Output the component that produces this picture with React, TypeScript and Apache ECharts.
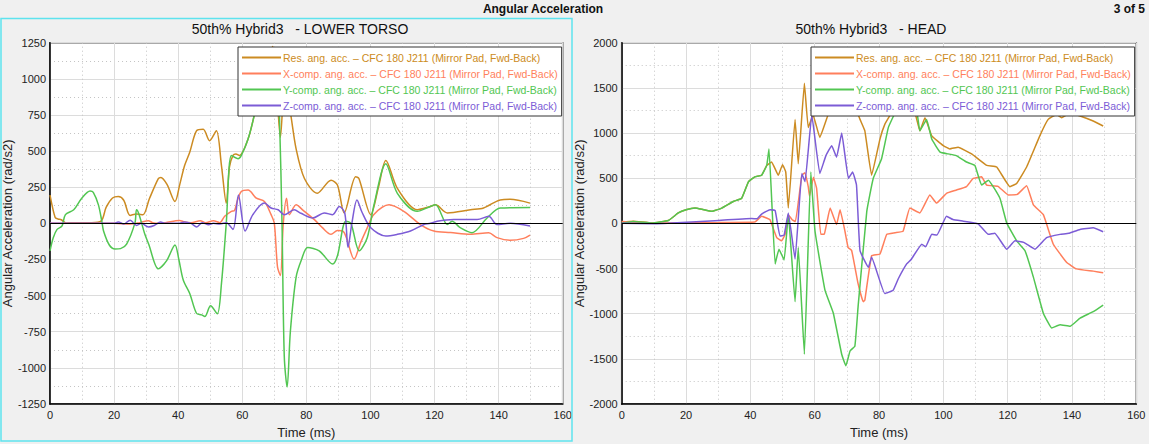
import React, { useEffect, useRef } from "react";
import * as echarts from "echarts";

const seriesNames = [
  "Res. ang. acc. – CFC 180 J211 (Mirror Pad, Fwd-Back)",
  "X-comp. ang. acc. – CFC 180 J211 (Mirror Pad, Fwd-Back)",
  "Y-comp. ang. acc. – CFC 180 J211 (Mirror Pad, Fwd-Back)",
  "Z-comp. ang. acc. – CFC 180 J211 (Mirror Pad, Fwd-Back)",
];
const seriesColors = ["#cc8b22", "#ff7f5c", "#52c652", "#7c5cd6"];

const xTicks = [0, 20, 40, 60, 80, 100, 120, 140, 160];

// LOWER TORSO (time ms, rad/s2)
const torsoRes = [[0,195],[1.6,40],[2.5,30],[3.5,25],[5,3],[8,5],[10,5],[13,5],[16,17],[17.5,110],[19.5,175],[21.3,185],[23,160],[25,55],[27,65],[29,60],[31,170],[33.8,310],[34.6,318],[36.5,270],[39,151],[40.5,270],[42,400],[43.6,492],[45.7,640],[47.8,651],[49.8,572],[51.9,640],[53.5,400],[55,140],[56,390],[57.1,470],[58,480],[59.1,470],[61.8,583],[63.9,765],[66,980],[68,1150],[69.5,1224],[70.8,900],[71.9,595],[73.3,1000],[75.2,742],[76.8,515],[79.4,310],[83.4,208],[87.7,299],[89.7,265],[91.8,72],[95.4,322],[96.4,310],[100.1,60],[102.5,250],[104.8,435],[108.4,242],[114.6,94],[118.7,117],[120.3,128],[124,72],[131.2,94],[135.3,106],[140.5,162],[143.6,166],[149.8,140]];
const torsoX = [[0,0],[10,0],[20,0],[25,-5],[28,5],[30.7,18],[32,5],[33.7,0],[36,5],[40.4,20],[42,10],[44,5],[46.9,18],[48.5,5],[51,18],[53,5],[54.5,49],[56.6,83],[57.6,90],[58.5,160],[59.7,220],[61.8,230],[64.4,174],[66.9,151],[69,60],[70,0],[71,-303],[71.9,-360],[72.8,0],[73.8,174],[74.7,60],[76.8,128],[79,90],[82.5,26],[85,-30],[87.7,-76],[89.7,-49],[91.5,-55],[92.5,-100],[94.9,-247],[97,-130],[99,-31],[101,60],[105.8,128],[110.4,83],[115.6,-8],[119.8,-53],[125,-63],[131.2,-76],[136.9,-65],[139.5,-99],[143.6,-117],[147.8,-104],[149.8,-81]];
const torsoY = [[0,-190],[1,-100],[2.2,-42],[3.7,-20],[4.8,60],[7.4,94],[9.9,174],[12.5,224],[13.5,215],[15.1,128],[16.2,10],[16.7,-53],[18.5,-150],[20.3,-178],[22,-175],[23.9,-144],[26.5,3],[27,94],[27.8,60],[29.6,-76],[30.8,-144],[33.8,-315],[36.4,-258],[39,-149],[40.2,-250],[41.6,-394],[43.6,-485],[45.7,-622],[47.3,-633],[48.3,-645],[50.1,-571],[52.2,-626],[53.5,-417],[55,0],[56.6,470],[58.7,447],[59.7,470],[61.8,583],[63.9,765],[66,1000],[68,1150],[70,1180],[71,1000],[71.6,742],[72.4,0],[73.1,-917],[74,-1133],[75,-750],[76.8,-372],[78.5,-250],[80.4,-167],[84,-190],[88.2,-281],[89.7,-224],[92.3,15],[93.9,0],[96.5,-190],[99,-99],[101.1,128],[104.8,412],[108.4,208],[114.6,83],[118.7,117],[120.3,128],[124,-8],[125.5,15],[128,-30],[131.7,-65],[136.4,37],[140.5,106],[149.8,110]];
const torsoZ = [[0,0],[20,0],[21.3,10],[23,-5],[25,22],[27,-15],[28.5,0],[30.7,-25],[32.5,-15],[34.5,10],[36,0],[40,0],[42,10],[44,0],[45.8,-25],[47.5,5],[49.5,-10],[51,0],[53,-5],[55,5],[57.1,-42],[58.8,196],[60.9,-53],[63.3,60],[66.9,140],[69,106],[71.2,94],[73.1,60],[76.2,94],[78.3,70],[82,37],[85.6,72],[88.2,60],[90.3,117],[92,70],[93,-167],[94.2,0],[95.8,162],[97.3,80],[100.1,-31],[104.8,-88],[108.4,-76],[112.5,-53],[116.7,-8],[118.7,0],[120.8,15],[126,26],[133.3,26],[136.9,49],[139.5,-8],[143.6,0],[149.8,-19]];

// HEAD (time ms, rad/s2)
const headRes = [[0,15],[3.6,24],[9.4,5],[14.5,31],[17.6,115],[20,150],[22.8,169],[25,155],[28,133],[31.1,169],[34.7,242],[37.3,278],[39.4,460],[41.4,515],[43.5,532],[45.1,642],[46.6,679],[48.7,532],[50,649],[51,569],[51.8,169],[53.9,1151],[54.9,660],[56.8,1551],[58,1060],[59.5,1200],[61.6,951],[64.2,1205],[67,1400],[70,1450],[72.5,1300],[74.1,1151],[75.6,1024],[77.7,532],[80.3,933],[81.8,1096],[83.9,1224],[86,1350],[89,1350],[91.2,1224],[92.7,1024],[94.3,1170],[96.4,969],[100,860],[102,824],[104.6,842],[108.8,769],[113.5,642],[116.6,624],[120.7,406],[122.8,442],[125.9,624],[130,969],[132.6,1151],[135.2,1205],[136.8,1170],[139.5,1220],[142.5,1188],[146.6,1133],[149.7,1078]];
const headX = [[0,20],[5,10],[15,5],[30,10],[41.4,15],[43.5,78],[45,60],[46.1,42],[48.2,-158],[49.7,-194],[50.8,-122],[51.8,96],[53,40],[54,20],[56,532],[57,560],[58,406],[58.4,300],[59.6,510],[60.6,387],[61.9,-122],[63,-120],[64.8,169],[66.8,-13],[67.9,151],[69.4,-85],[70.4,-267],[71.5,-300],[73.5,-668],[75.1,-867],[75.6,-849],[77.7,-358],[80.3,-340],[82.4,-122],[85,-104],[87.5,-85],[89.6,169],[92.7,115],[95.8,314],[97.9,224],[101,333],[104.1,369],[107.2,406],[109.3,497],[111.9,515],[113.5,424],[117,410],[120.2,314],[123,320],[125.9,417],[128,205],[131.1,96],[134.2,-231],[138.3,-431],[141.4,-504],[146.6,-529],[149.7,-548]];
const headY = [[0,0],[3.6,20],[9.4,5],[14.5,31],[17.6,115],[20,150],[22.8,169],[25,155],[28,133],[31.1,169],[34.7,242],[37.3,278],[39.4,460],[41.4,515],[43.5,532],[45.1,642],[45.8,824],[47.7,-449],[48.9,-286],[50.5,-406],[51.8,100],[53.9,-867],[54.9,-267],[56.8,-1449],[58.8,569],[60.1,-85],[63.2,-740],[65.8,-995],[68.4,-1449],[69.7,-1577],[71,-1413],[72.5,-1358],[73.5,-922],[76.2,133],[78.2,497],[80.8,715],[82.9,1060],[85,1220],[88,1300],[91.7,1242],[92.7,1024],[94.8,1151],[96.4,933],[99,788],[101.5,769],[104,750],[107.2,679],[109.8,642],[111.9,424],[114,478],[117.6,278],[119.7,5],[122.8,-194],[125.4,-303],[128,-595],[131.1,-995],[133.7,-1159],[136.3,-1122],[139.4,-1140],[142.5,-1049],[146.6,-977],[149.7,-904]];
const headZ = [[0,0],[10,-5],[14.3,0],[29,30],[40.4,54],[42,50],[43.5,103],[46.1,151],[47.7,142],[49.2,-140],[50.5,-130],[51.8,115],[53.9,-395],[56,551],[57,460],[59.1,1200],[61.6,551],[63.5,750],[65.3,860],[66.8,733],[68.4,1000],[70.5,497],[71.8,569],[73,424],[74.1,-303],[76.7,-486],[77.7,-376],[81.8,-777],[84.4,-740],[86,-613],[88.6,-449],[90,-400],[93.3,-231],[94.5,-260],[96.4,-122],[98,-130],[101,78],[103,42],[106.2,24],[110.8,-5],[114,-122],[116,-110],[119.7,-286],[122.3,-194],[125,-210],[128.5,-286],[132.1,-158],[136.3,-122],[139,-110],[142.5,-67],[146.6,-49],[149.7,-93]];

const FONT = "Liberation Sans, Arial, sans-serif";

export default function App() {
  const ref = useRef<HTMLDivElement>(null);
  useEffect(() => {
    document.body.style.margin = "0";
    document.body.style.background = "#f0f0f0";
    const chart = echarts.init(ref.current!, null, { renderer: "svg" });
    const gridTop = 42.7;
    const gridH = 366.6;
    const grids = [
      { left: 48, top: gridTop, width: 514.7, height: gridH },
      { left: 621.7, top: gridTop, width: 514.6, height: gridH },
    ].map((g) => ({
      ...g,
      show: true,
      backgroundColor: "#ffffff",
      borderColor: "#555555",
      borderWidth: 1.5,
      containLabel: false,
    }));

    const minorLine = { show: true, lineStyle: { color: "#c4c4c4", type: [1, 3], width: 1 } };
    const mkX = (i: number) => ({
      type: "value",
      gridIndex: i,
      min: xTicks[0],
      max: xTicks[xTicks.length - 1],
      interval: 20,
      name: "Time (ms)",
      nameLocation: "middle",
      nameGap: 22,
      nameTextStyle: { fontFamily: FONT, fontSize: 13, color: "#222" },
      axisLine: { onZero: false, lineStyle: { color: "#000", width: 1.5 } },
      axisTick: { show: false },
      axisLabel: { fontFamily: FONT, fontSize: 11, color: "#222", margin: 5, formatter: (v: number) => String(v) },
      splitLine: { show: true, lineStyle: { color: "#dcdcdc", width: 1 } },
      minorTick: { show: false, splitNumber: 2 },
      minorSplitLine: minorLine,
    });
    const mkY = (i: number, lim: number, step: number) => ({
      type: "value",
      gridIndex: i,
      min: -lim,
      max: lim,
      interval: step,
      name: "Angular Acceleration (rad/s2)",
      nameLocation: "middle",
      nameGap: 34,
      nameTextStyle: { fontFamily: FONT, fontSize: 13, color: "#222" },
      axisLine: { onZero: false, lineStyle: { color: "#000", width: 1.5 } },
      axisTick: { show: false },
      axisLabel: { fontFamily: FONT, fontSize: 11, color: "#222", margin: 4, formatter: (v: number) => String(v) },
      splitLine: { show: true, lineStyle: { color: "#dcdcdc", width: 1 } },
      minorTick: { show: false, splitNumber: 2 },
      minorSplitLine: minorLine,
    });

    const zeroLine = {
      silent: true,
      symbol: ["none", "none"],
      label: { show: false },
      lineStyle: { color: "#000", width: 1, type: "solid" },
      data: [{ yAxis: 0 }],
      animation: false,
    };

    const groups = [
      [torsoRes, torsoX, torsoY, torsoZ],
      [headRes, headX, headY, headZ],
    ];
    const series: any[] = [];
    groups.forEach((g, gi) => {
      g.forEach((d, si) => {
        series.push({
          type: "line",
          name: seriesNames[si],
          xAxisIndex: gi,
          yAxisIndex: gi,
          data: d,
          symbol: "none",
          showSymbol: false,
          smooth: gi === 0 ? 0.3 : 0.1,
          color: seriesColors[si],
          lineStyle: { width: 1.5, color: seriesColors[si] },
          z: 3,
          ...(si === 0 ? { markLine: zeroLine } : {}),
        });
      });
    });

    const mkLegend = (left: number) => ({
      orient: "vertical",
      left,
      top: 47,
      data: seriesNames.map((n, i) => ({ name: n, textStyle: { color: seriesColors[i] } })),
      icon: "rect",
      itemWidth: 39,
      itemHeight: 2,
      itemGap: 3,
      padding: [4, 4, 4, 4],
      backgroundColor: "#ffffff",
      borderColor: "#333333",
      borderWidth: 1,
      selectedMode: false,
      textStyle: { fontFamily: FONT, fontSize: 10.5, padding: [0, 0, 0, -3], lineHeight: 13 },
      z: 10,
    });

    chart.setOption({
      animation: false,
      backgroundColor: "#f0f0f0",
      grid: grids,
      xAxis: [mkX(0), mkX(1)],
      yAxis: [mkY(0, 1250, 250), mkY(1, 2000, 500)],
      legend: [mkLegend(238), mkLegend(811)],
      series,
      graphic: [
        {
          type: "rect",
          shape: { x: 1, y: 18.5, width: 571, height: 422.5 },
          style: { fill: "none", stroke: "#5ee3ee", lineWidth: 1.5 },
          silent: true,
          z: 20,
        },
        {
          type: "text",
          x: 543,
          y: 9,
          style: { text: "Angular Acceleration", font: `bold 12px ${FONT}`, fill: "#111", align: "center", verticalAlign: "middle" },
        },
        {
          type: "text",
          x: 1145,
          y: 9,
          style: { text: "3 of 5", font: `bold 12px ${FONT}`, fill: "#111", align: "right", verticalAlign: "middle" },
        },
        {
          type: "text",
          x: 300,
          y: 29,
          style: { text: "50th% Hybrid3   - LOWER TORSO", font: `14px ${FONT}`, fill: "#111", align: "center", verticalAlign: "middle" },
        },
        {
          type: "text",
          x: 871,
          y: 29,
          style: { text: "50th% Hybrid3   - HEAD", font: `14px ${FONT}`, fill: "#111", align: "center", verticalAlign: "middle" },
        },
      ],
    });
    return () => chart.dispose();
  }, []);
  return <div ref={ref} style={{ width: 1149, height: 444 }} />;
}
